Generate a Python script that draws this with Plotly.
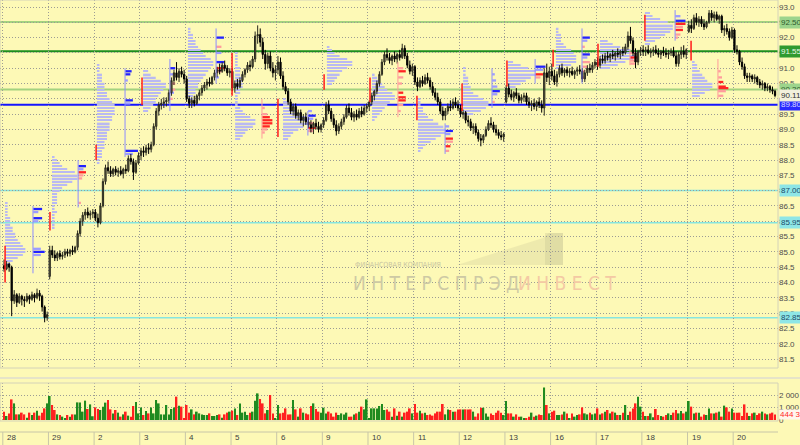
import plotly.graph_objects as go

# ---------------- data ----------------
day_labels = ["28", "29", "2", "3", "4", "5", "6", "9", "10", "11", "12", "13", "16", "17", "18", "19", "20"]
bars_per_day = 18

opens = [
    84.55,84.45,84.60,84.50,83.40,83.60,83.35,83.55,83.45,83.40,83.55,83.45,83.60,83.50,83.65,83.55,83.20,82.85,
    84.20,85.05,84.90,84.80,84.95,84.85,84.90,85.00,84.95,85.05,85.00,85.15,85.60,86.00,86.20,86.30,86.20,86.25,
    86.30,86.10,85.95,86.50,87.30,87.75,87.65,87.55,87.70,87.60,87.65,87.55,87.70,87.65,88.05,87.95,87.60,87.90,
    88.15,88.30,88.25,88.40,88.35,88.50,89.10,89.60,89.80,89.85,89.90,89.95,90.20,90.60,90.85,90.70,90.90,90.80,
    90.65,90.00,89.85,89.95,89.85,90.10,90.20,90.35,90.45,90.55,90.50,90.70,90.85,90.95,90.90,91.10,91.00,90.85,
    90.90,90.35,90.50,90.40,90.60,90.80,90.95,91.10,91.05,91.30,92.05,92.10,91.85,91.45,91.15,91.40,91.00,90.85,
    90.95,91.20,90.75,90.40,90.25,89.90,89.60,89.75,89.45,89.55,89.30,89.40,89.25,89.15,89.05,89.20,89.10,89.00,
    89.15,89.30,89.80,89.60,89.35,89.15,88.95,89.10,89.25,89.40,89.70,89.55,89.40,89.50,89.40,89.60,89.50,89.70,
    89.75,89.90,90.10,90.25,90.50,90.80,91.20,91.45,91.35,91.25,91.40,91.30,91.45,91.35,91.65,91.40,91.10,90.90,
    91.05,90.55,90.40,90.60,90.50,90.70,90.60,90.40,90.20,90.05,89.90,89.60,89.45,89.60,89.75,89.70,89.90,89.80,
    89.70,89.50,89.55,89.30,89.25,89.05,89.10,88.90,88.70,88.65,88.80,89.00,89.20,89.15,89.00,88.90,88.80,88.75,
    89.90,90.35,90.15,90.05,90.20,90.10,89.95,90.05,90.10,89.90,89.80,89.85,89.75,89.90,89.80,89.70,90.85,90.70,
    90.90,90.75,90.55,90.80,91.00,90.85,90.95,90.85,90.90,90.80,90.90,90.95,90.90,90.65,90.85,91.00,90.95,91.10,
    91.20,91.10,91.30,91.25,91.40,91.35,91.45,91.40,91.50,91.45,91.55,91.50,91.70,92.05,91.90,91.50,91.20,91.55,
    91.60,91.55,91.60,91.50,91.55,91.60,91.50,91.45,91.55,91.50,91.45,91.50,91.55,91.40,91.15,91.45,91.55,91.45,
    92.20,92.40,92.30,92.65,92.50,92.60,92.45,92.35,92.50,92.80,92.65,92.75,92.60,92.70,92.25,92.30,92.20,92.00,
    92.25,91.60,91.55,91.20,91.05,90.75,90.70,90.75,90.65,90.70,90.55,90.45,90.50,90.35,90.40,90.30,90.25,
]
highs = [
    84.75,84.70,84.65,84.55,83.75,83.65,83.65,83.60,83.55,83.65,83.60,83.70,83.65,83.80,83.75,83.60,83.25,83.05,
    85.20,85.20,85.05,85.00,85.05,85.00,85.10,85.10,85.10,85.20,85.20,85.70,86.10,86.30,86.40,86.45,86.35,86.40,
    86.40,86.25,86.60,87.40,87.85,87.95,87.80,87.75,87.80,87.75,87.80,87.75,87.85,88.15,88.20,88.05,88.00,88.25,
    88.40,88.45,88.50,88.55,88.60,89.20,89.70,89.90,90.00,90.05,90.05,90.30,90.70,90.95,91.20,91.00,91.05,90.95,
    90.75,90.10,90.05,90.10,90.15,90.30,90.45,90.55,90.65,90.70,90.75,90.95,91.05,91.15,91.20,91.25,91.10,91.00,
    91.00,90.60,90.65,90.70,90.90,91.00,91.20,91.25,91.40,92.20,92.40,92.30,92.00,91.60,91.50,91.55,91.20,91.10,
    91.40,91.35,90.90,90.55,90.35,90.00,89.85,89.85,89.65,89.65,89.50,89.55,89.40,89.30,89.25,89.35,89.25,89.20,
    89.40,89.90,89.95,89.70,89.50,89.30,89.20,89.35,89.50,89.80,89.85,89.70,89.60,89.65,89.70,89.75,89.80,89.85,
    89.95,90.20,90.30,90.60,90.90,91.30,91.55,91.65,91.50,91.45,91.55,91.50,91.60,91.80,91.75,91.50,91.25,91.15,
    91.10,90.70,90.70,90.75,90.80,90.85,90.70,90.55,90.35,90.20,90.00,89.75,89.70,89.85,89.95,90.00,90.05,89.95,
    89.80,89.65,89.60,89.45,89.35,89.20,89.20,89.00,88.85,88.85,89.10,89.30,89.40,89.25,89.15,89.00,88.95,88.90,
    90.45,90.50,90.30,90.25,90.35,90.20,90.15,90.20,90.20,90.05,89.95,90.00,89.95,90.05,89.95,91.00,91.15,91.05,
    91.15,90.95,90.90,91.10,91.15,91.00,91.05,91.00,91.05,90.95,91.05,91.10,91.00,90.95,91.10,91.15,91.20,91.30,
    91.35,91.40,91.45,91.50,91.55,91.50,91.60,91.55,91.65,91.60,91.70,91.80,92.20,92.35,92.00,91.65,91.60,91.70,
    91.75,91.70,91.75,91.65,91.70,91.75,91.65,91.60,91.70,91.65,91.60,91.65,91.70,91.55,91.55,91.70,91.75,91.65,
    92.55,92.60,92.75,92.80,92.70,92.70,92.60,92.55,92.90,92.90,92.85,92.85,92.75,92.75,92.40,92.45,92.30,92.35,
    92.30,91.75,91.60,91.35,91.15,90.85,90.85,90.80,90.80,90.75,90.65,90.60,90.55,90.50,90.45,90.40,90.30,
]
lows = [
    84.35,84.40,84.35,82.90,83.30,83.20,83.30,83.25,83.20,83.35,83.30,83.40,83.35,83.45,83.40,83.05,82.70,82.75,
    84.10,84.80,84.70,84.70,84.75,84.75,84.80,84.85,84.85,84.90,84.95,85.05,85.50,85.85,86.05,86.10,86.05,86.10,
    86.00,85.80,85.90,86.45,87.20,87.55,87.45,87.45,87.50,87.45,87.50,87.40,87.55,87.60,87.85,87.35,87.55,87.85,
    88.00,88.10,88.15,88.20,88.25,88.45,89.00,89.45,89.65,89.70,89.75,89.85,90.10,90.45,90.60,90.55,90.70,90.50,
    89.90,89.70,89.70,89.75,89.80,89.95,90.10,90.25,90.30,90.40,90.45,90.60,90.70,90.80,90.85,90.90,90.75,90.70,
    90.25,90.20,90.30,90.35,90.55,90.70,90.85,90.90,91.00,91.20,91.80,91.70,91.30,90.95,91.00,90.90,90.70,90.60,
    90.80,90.65,90.30,90.15,89.80,89.50,89.45,89.35,89.30,89.20,89.10,89.15,89.05,88.90,88.85,89.00,88.90,88.90,
    89.05,89.25,89.50,89.25,89.05,88.80,88.85,89.00,89.15,89.35,89.45,89.30,89.25,89.30,89.35,89.40,89.45,89.55,
    89.60,89.80,89.95,90.15,90.40,90.75,91.10,91.25,91.15,91.10,91.20,91.15,91.25,91.30,91.30,91.00,90.80,90.75,
    90.45,90.25,90.35,90.40,90.45,90.50,90.30,90.10,89.95,89.80,89.50,89.30,89.30,89.50,89.60,89.65,89.70,89.60,
    89.40,89.35,89.20,89.10,88.95,88.85,88.80,88.60,88.45,88.55,88.75,88.95,89.05,88.90,88.80,88.70,88.65,88.60,
    89.85,90.05,89.95,89.90,90.00,89.85,89.85,89.90,89.80,89.70,89.60,89.65,89.60,89.70,89.55,89.45,90.55,90.45,
    90.60,90.45,90.40,90.70,90.75,90.70,90.75,90.70,90.75,90.65,90.75,90.80,90.55,90.55,90.75,90.85,90.85,91.00,
    90.95,91.00,91.15,91.15,91.25,91.20,91.30,91.25,91.35,91.30,91.40,91.45,91.60,91.80,91.40,91.00,91.10,91.40,
    91.40,91.40,91.45,91.35,91.40,91.45,91.35,91.30,91.40,91.35,91.30,91.40,91.35,91.05,91.05,91.30,91.35,91.30,
    92.15,92.15,92.25,92.40,92.35,92.35,92.25,92.30,92.45,92.55,92.50,92.55,92.45,92.15,92.05,92.10,91.90,91.95,
    91.50,91.45,91.10,90.95,90.65,90.55,90.55,90.55,90.50,90.45,90.35,90.30,90.25,90.25,90.20,90.15,90.05,
]
closes = [
    84.45,84.60,84.50,83.40,83.60,83.35,83.55,83.45,83.40,83.55,83.45,83.60,83.50,83.65,83.55,83.20,82.85,82.95,
    85.05,84.90,84.80,84.95,84.85,84.90,85.00,84.95,85.05,85.00,85.15,85.60,86.00,86.20,86.30,86.20,86.25,86.30,
    86.10,85.95,86.50,87.30,87.75,87.65,87.55,87.70,87.60,87.65,87.55,87.70,87.65,88.05,87.95,87.60,87.90,88.15,
    88.30,88.25,88.40,88.35,88.50,89.10,89.60,89.80,89.85,89.90,89.95,90.20,90.60,90.85,90.70,90.90,90.80,90.65,
    90.00,89.85,89.95,89.85,90.10,90.20,90.35,90.45,90.55,90.50,90.70,90.85,90.95,90.90,91.10,91.00,90.85,90.90,
    90.35,90.50,90.40,90.60,90.80,90.95,91.10,91.05,91.30,92.05,92.10,91.85,91.45,91.15,91.40,91.00,90.85,90.95,
    91.20,90.75,90.40,90.25,89.90,89.60,89.75,89.45,89.55,89.30,89.40,89.25,89.15,89.05,89.20,89.10,89.00,89.15,
    89.30,89.80,89.60,89.35,89.15,88.95,89.10,89.25,89.40,89.70,89.55,89.40,89.50,89.40,89.60,89.50,89.70,89.75,
    89.90,90.10,90.25,90.50,90.80,91.20,91.45,91.35,91.25,91.40,91.30,91.45,91.35,91.65,91.40,91.10,90.90,91.05,
    90.55,90.40,90.60,90.50,90.70,90.60,90.40,90.20,90.05,89.90,89.60,89.45,89.60,89.75,89.70,89.90,89.80,89.70,
    89.50,89.55,89.30,89.25,89.05,89.10,88.90,88.70,88.65,88.80,89.00,89.20,89.15,89.00,88.90,88.80,88.75,88.85,
    90.35,90.15,90.05,90.20,90.10,89.95,90.05,90.10,89.90,89.80,89.85,89.75,89.90,89.80,89.70,90.85,90.70,90.90,
    90.75,90.55,90.80,91.00,90.85,90.95,90.85,90.90,90.80,90.90,90.95,90.90,90.65,90.85,91.00,90.95,91.10,91.20,
    91.10,91.30,91.25,91.40,91.35,91.45,91.40,91.50,91.45,91.55,91.50,91.70,92.05,91.90,91.50,91.20,91.55,91.60,
    91.55,91.60,91.50,91.55,91.60,91.50,91.45,91.55,91.50,91.45,91.50,91.55,91.40,91.15,91.45,91.55,91.45,91.60,
    92.40,92.30,92.65,92.50,92.60,92.45,92.35,92.50,92.80,92.65,92.75,92.60,92.70,92.25,92.30,92.20,92.00,92.25,
    91.60,91.55,91.20,91.05,90.75,90.70,90.75,90.65,90.70,90.55,90.45,90.50,90.35,90.40,90.30,90.25,90.11,
]
# volume, thousands
volumes = [
    670,320,530,1650,1330,450,450,590,450,190,590,400,590,750,350,590,930,1330,
    1920,1200,800,450,400,270,130,400,270,450,450,1410,1410,670,1550,880,1250,300,
    1010,880,800,1070,1390,1600,850,530,800,590,270,450,670,350,270,1120,1440,530,
    1010,400,720,530,1010,530,1600,1330,450,450,1200,450,880,1010,1870,1150,1070,130,
    1200,590,850,450,670,530,450,400,400,530,320,320,400,450,190,450,590,670,
    750,930,400,1330,590,670,400,590,670,1550,2130,1680,1330,530,800,2000,530,130,
    1200,530,590,930,450,450,1600,850,270,930,590,530,450,1120,1330,880,670,590,
    980,530,670,530,270,590,400,530,450,590,270,270,450,530,670,1070,850,1650,
    130,930,930,930,1120,1280,800,850,670,270,930,350,670,270,590,670,930,530,
    1280,590,750,530,590,400,450,350,530,670,670,1280,450,850,800,670,670,850,
    850,850,850,850,850,670,270,530,980,980,530,270,530,400,590,750,590,400,
    1520,530,530,270,450,270,270,130,130,270,590,270,350,450,400,2600,1200,530,
    670,750,400,400,450,670,530,130,530,270,400,450,1010,530,450,590,450,530,
    930,450,530,670,800,530,670,590,400,400,590,1200,400,670,930,1330,1870,1070,
    670,320,320,530,220,880,400,320,270,400,530,400,590,800,530,720,530,670,
    1520,1070,530,590,590,270,450,400,930,530,530,590,670,270,1150,1010,670,930,
    590,590,590,320,1250,590,320,530,590,400,530,670,530,450,530,590,444,
]
last_volume_text = "444 340"

# horizontal levels
level_values = [92.507, 91.555, 90.305, 89.803, 87.006, 85.953, 82.850]
level_kinds = ["lg", "dg", "lg", "bl", "cy", "cy", "cy"]

# volume profiles (lavender), start in bar units, low price, widths per 0.1 step
prof_start = [0.4, 18.9, 36.6, 54.8, 72.5, 91.1, 110.0, 127.3, 145.1, 163.2, 181.0, 198.7, 217.6, 235.0, 252.7, 271.3]
prof_low = [84.6, 85.8, 87.9, 89.6, 89.9, 88.7, 88.7, 90.5, 89.3, 88.3, 89.5, 90.4, 91.0, 91.0, 91.8, 90.1]
prof_widths = [
    [2,3,5,7,8,8,7,6,5,4,4,3,3,2,2,2,1,1,1,1,1],
    [1,1,1,1,1,2,1,1,2,2,2,2,3,4,6,8,10,10,9,6,4,3,2,1],
    [1,1,2,2,2,3,3,3,4,4,4,5,5,5,6,6,7,7,7,7,6,5,4,4,3,3,3,2,2,2,1,1,1],
    [2,3,4,5,5,6,7,8,9,9,7,5,3,2],
    [1,2,2,3,3,4,4,5,6,7,8,9,10,10,9,7,6,5,4,3,3,2,2,1,1],
    [2,3,4,5,7,8,8,6,4,3,2,1,1,1,1,2,2,3,3,3,3,2,2,2,1,1,1,1,1],
    [2,3,4,6,8,10,10,9,7,5,4,3,2,1],
    [2,3,4,5,6,8,10,10,8,5,3,2,1],
    [1,2,3,4,5,6,7,9,9,8,6,5,4,3,2,1],
    [1,2,3,5,7,9,11,11,10,8,6,4,3,2,2,1,1,1],
    [4,7,9,10,10,8,6,4,3,3,2,2,2,1,1,1],
    [3,5,7,9,11,11,8,5,2],
    [3,6,8,8,8,7,6,4,3,2,2,2,1,1],
    [4,7,10,13,14,14,12,8,5,3],
    [2,4,6,8,10,11,11,9,6,3,2],
    [3,5,7,8,8,6,5,4,3,2,2,1],
]

# buy/sell highlight blocks: B dark blue, b light blue, S red, s pink
blk_start = [11.5, 29.3, 47.8, 65.5, 83.7, 101.8, 119.9, 155.4, 174.0, 192.5, 209.5, 228.0, 246.9, 264.7, 281.6]
blk_prices = [
    [86.4, 86.3, 86.1, 86.0, 85.1, 85.0, 84.9],
    [87.8, 87.7, 87.6, 87.5, 87.4, 86.6, 86.5],
    [90.9, 90.8, 90.6, 89.95, 89.85, 88.3, 88.2],
    [91.0, 90.8, 90.5, 90.3, 90.2, 90.0],
    [92.0, 91.7, 91.5, 91.2, 91.0, 90.9, 90.7],
    [89.7, 89.5, 89.4, 89.3, 89.2, 89.1, 89.0, 88.9],
    [89.6, 89.45, 89.35, 89.2, 89.05, 88.95],
    [91.0, 90.9, 90.7, 90.5, 90.2, 90.05, 89.95, 89.8, 89.6],
    [89.1, 88.95, 88.85, 88.7, 88.6, 88.45, 88.3],
    [90.8, 90.6, 90.4, 90.25, 90.15, 89.9],
    [91.05, 90.95, 90.8, 90.7],
    [92.0, 91.9, 91.7, 91.45, 91.35, 91.2, 91.05, 90.9, 90.7],
    [91.5, 91.35, 91.25, 91.15],
    [92.7, 92.55, 92.45, 92.35, 92.25, 92.1, 92.0],
    [90.9, 90.7, 90.55, 90.4, 90.35, 90.25, 90.1],
]
blk_widths = [
    [3.5, 2, 3.5, 2, 3, 4.5, 3],
    [3, 2, 3, 2, 1.5, 1, 1.5],
    [2.5, 2, 1, 3, 2, 5, 3],
    [2, 1.5, 2, 2, 1.5, 1],
    [3, 2, 2, 3, 3, 2, 1],
    [1, 2, 3, 4, 4, 3, 2, 1],
    [1.5, 3, 2, 2, 3, 2],
    [2, 3, 2, 1.5, 2, 3, 3, 2, 1],
    [1.5, 3, 2, 3, 3, 2, 1.5],
    [1, 1.5, 2, 3, 2, 1],
    [4, 3, 3, 2],
    [3, 2, 1, 3, 2, 3, 2, 1, 1],
    [2, 3, 3, 2],
    [2, 4, 4, 3, 3, 2, 1],
    [1, 1.5, 2, 3, 4, 3, 2],
]
blk_kinds = ["BbBbbBb", "BbSsss", "BBbBbBb", "Bbssbs", "BsbBSsb", "ssSSSSss",
             "bBbsSs", "sSssSSSss", "bBbSsSs", "bbbBbs", "BbSs", "BbsBbssss",
             "sSss", "bBSsSss", "ssSSSss"]

# thin vertical marks at the left of profiles
red_mark_x = [0.4, 18.1, 36.3, 54.4, 89.9, 108.0, 126.2, 144.3, 162.8, 180.6, 198.3, 216.5, 234.2, 252.7, 270.9]
red_mark_lo = [84.0, 85.7, 88.0, 89.8, 90.1, 88.75, 90.3, 89.9, 89.3, 89.6, 90.4, 91.05, 91.05, 91.9, 91.25]
red_mark_hi = [85.2, 86.3, 88.5, 90.7, 91.5, 90.0, 90.8, 90.7, 90.1, 90.5, 91.25, 91.6, 91.8, 92.75, 91.9]
blue_mark_x = [11.4, 29.2, 47.7, 65.4, 83.6, 119.8, 173.9, 192.4, 209.4, 227.9, 264.6]
blue_mark_lo = [84.3, 86.45, 88.1, 89.6, 90.5, 88.8, 88.2, 89.7, 90.5, 90.5, 91.9]
blue_mark_hi = [86.5, 88.0, 91.0, 91.3, 92.3, 89.6, 89.2, 91.0, 91.3, 92.3, 92.9]
pink_mark_x = [101.7, 155.3, 246.8, 281.5]
pink_mark_lo = [88.7, 89.4, 91.1, 90.0]
pink_mark_hi = [90.0, 91.2, 91.6, 91.3]

# ---------------- styling ----------------
BG = "#fdf9b6"
GRID = "#9c9c94"
GRID_DASH = "1px,2px"
FONT = "Liberation Sans, Arial, sans-serif"
LEVEL_LINE = {"lg": "#a3d27f", "dg": "#1d8e1d", "bl": "#1414ff", "cy": "#86e6e0"}
LEVEL_LW = {"lg": 2, "dg": 2, "bl": 2, "cy": 1.5}
LEVEL_BG = {"lg": "#9cd48c", "dg": "#2f9a2f", "bl": "#2a2aff", "cy": "#8ee6e6"}
LEVEL_FG = {"lg": "#2d5a2d", "dg": "#e8f8e8", "bl": "#d8d8ff", "cy": "#1a4a6a"}
KIND_COLOR = {"B": "#2222ff", "b": "#9c9cff", "S": "#ff2424", "s": "#ff9c9c"}

n = len(closes)
xs = list(range(n))
day_starts = [k * bars_per_day - 0.5 for k in range(len(day_labels))]

W, H = 800, 445
ML, MR, MT, MB = 0, 22, 0, 24
PW, PH = W - ML - MR, H - MT - MB
main_top_px, main_bot_px = 0, 368
vol_top_px, vol_bot_px = 383, 421


def py(px):  # pixel y -> paper y
    return (PH - (px - MT)) / PH


def pxx(px):  # pixel x -> paper x
    return (px - ML) / PW


fig = go.Figure()

# lavender profiles
pb_x, pb_y, pb_base = [], [], []
for s, lo, ws in zip(prof_start, prof_low, prof_widths):
    for j, w in enumerate(ws):
        pb_x.append(w)
        pb_y.append(round(lo + 0.1 * j, 2))
        pb_base.append(s)
fig.add_trace(go.Bar(x=pb_x, y=pb_y, base=pb_base, orientation="h", width=0.045,
                     marker=dict(color="#b9b9f2", line_width=0),
                     xaxis="x", yaxis="y", hoverinfo="skip"))

# highlight blocks
hb_x, hb_y, hb_base, hb_c = [], [], [], []
for s, ps, ws, ks in zip(blk_start, blk_prices, blk_widths, blk_kinds):
    for p, w, k in zip(ps, ws, ks):
        hb_x.append(w)
        hb_y.append(p)
        hb_base.append(s)
        hb_c.append(KIND_COLOR[k])
fig.add_trace(go.Bar(x=hb_x, y=hb_y, base=hb_base, orientation="h", width=0.075,
                     marker=dict(color=hb_c, line_width=0), xaxis="x", yaxis="y", hoverinfo="skip"))


def seg_trace(xl, lol, hil, color, width):
    sx, sy = [], []
    for x, lo, hi in zip(xl, lol, hil):
        sx += [x, x, None]
        sy += [lo, hi, None]
    return go.Scatter(x=sx, y=sy, mode="lines", line=dict(color=color, width=width),
                      xaxis="x", yaxis="y", hoverinfo="skip")


fig.add_trace(seg_trace(blue_mark_x, blue_mark_lo, blue_mark_hi, "#8c8cff", 1))
fig.add_trace(seg_trace(pink_mark_x, pink_mark_lo, pink_mark_hi, "#ff9c9c", 1))
fig.add_trace(seg_trace(red_mark_x, red_mark_lo, red_mark_hi, "#ff1a1a", 1.5))

# candles
fig.add_trace(go.Candlestick(
    x=xs, open=opens, high=highs, low=lows, close=closes,
    increasing=dict(line=dict(color="#2a2a1e", width=1), fillcolor="#66664e"),
    decreasing=dict(line=dict(color="#000000", width=1), fillcolor="#000000"),
    whiskerwidth=0, xaxis="x", yaxis="y", hoverinfo="skip"))

# volume
vcol = ["#1f8a1f" if c >= o else "#ff2020" for o, c in zip(opens, closes)]
fig.add_trace(go.Bar(x=xs, y=volumes, width=0.66, marker=dict(color=vcol, line_width=0),
                     xaxis="x", yaxis="y2", hoverinfo="skip"))

shapes = []
annotations = []

# level lines + labels
for v, k in zip(level_values, level_kinds):
    shapes.append(dict(type="line", xref="paper", x0=0, x1=1, yref="y", y0=v, y1=v,
                       line=dict(color=LEVEL_LINE[k], width=LEVEL_LW[k]), layer="below"))
    annotations.append(dict(xref="paper", x=1, xanchor="left", xshift=1, yref="y", y=v,
                            yanchor="middle", text=f"{v:.3f}", showarrow=False,
                            font=dict(family=FONT, size=8, color=LEVEL_FG[k]),
                            bgcolor=LEVEL_BG[k], borderpad=1))
# last price label
annotations.append(dict(xref="paper", x=1, xanchor="left", xshift=1, yref="y", y=closes[-1],
                        yanchor="middle", text=f"{closes[-1]:.2f}", showarrow=False,
                        font=dict(family=FONT, size=8, color="#303030"), bgcolor="#f2f0dc", borderpad=1))
# last volume label
annotations.append(dict(xref="paper", x=1, xanchor="left", xshift=1, yref="y2", y=volumes[-1],
                        yanchor="middle", text=last_volume_text, showarrow=False,
                        font=dict(family=FONT, size=8, color="#ff2a2a"), bgcolor="#fff6ee", borderpad=0))

# date labels
for lab, ds in zip(day_labels, day_starts):
    annotations.append(dict(xref="x", x=ds, xanchor="left", xshift=2, yref="paper", y=py(438),
                            yanchor="middle", text=lab, showarrow=False,
                            font=dict(family=FONT, size=8, color="#404040")))
    shapes.append(dict(type="line", xref="x", x0=ds, x1=ds, yref="paper", y0=py(432), y1=py(445),
                       line=dict(color="#c8c6a8", width=1)))
shapes.append(dict(type="line", xref="paper", x0=0, x1=1, yref="paper", y0=py(432), y1=py(432),
                   line=dict(color="#c8c6a8", width=1)))
# panel borders / separator
shapes.append(dict(type="rect", xref="paper", x0=0, x1=1, yref="y domain", y0=0, y1=1,
                   line=dict(color="#d4d2b8", width=1)))
shapes.append(dict(type="rect", xref="paper", x0=0, x1=1, yref="y2 domain", y0=0, y1=1,
                   line=dict(color="#d4d2b8", width=1)))
shapes.append(dict(type="line", xref="paper", x0=0, x1=1.03, yref="paper", y0=py(378), y1=py(378),
                   line=dict(color="#e6e4c8", width=2)))

# watermark logo
logo = (f"M {pxx(457)},{py(265)} L {pxx(543)},{py(238)} L {pxx(549)},{py(233)} "
        f"L {pxx(563)},{py(233)} L {pxx(563)},{py(265)} Z")
shapes.append(dict(type="path", xref="paper", yref="paper", path=logo,
                   fillcolor="rgba(200,196,150,0.28)", line=dict(width=0), layer="below"))
shapes.append(dict(type="rect", xref="paper", yref="paper", x0=pxx(545), x1=pxx(563), y0=py(265), y1=py(233),
                   fillcolor="rgba(190,186,140,0.28)", line=dict(width=0), layer="below"))
annotations.append(dict(xref="paper", yref="paper", x=pxx(353), y=py(265), xanchor="left", yanchor="middle",
                        text="ФИНАНСОВАЯ КОМПАНИЯ", showarrow=False,
                        font=dict(family="DejaVu Sans Condensed, DejaVu Sans", size=7, color="#c9c5a2")))
annotations.append(dict(xref="paper", yref="paper", x=pxx(351), y=py(283), xanchor="left", yanchor="middle",
                        text="И Н Т Е Р С П Р Э Д -", showarrow=False,
                        font=dict(family="DejaVu Sans Condensed, DejaVu Sans", size=19, color="#cdc9a4")))
annotations.append(dict(xref="paper", yref="paper", x=pxx(516), y=py(283), xanchor="left", yanchor="middle",
                        text="И Н В Е С Т", showarrow=False,
                        font=dict(family="DejaVu Sans Condensed, DejaVu Sans", size=19, color="#f4c9a4")))

axis_common = dict(showgrid=True, gridcolor=GRID, griddash=GRID_DASH, gridwidth=1, zeroline=False,
                   ticks="", automargin=False, showline=False)

fig.update_layout(
    template="none",
    width=W, height=H,
    margin=dict(l=ML, r=MR, t=MT, b=MB),
    paper_bgcolor=BG, plot_bgcolor=BG,
    showlegend=False,
    barmode="overlay",
    xaxis=dict(axis_common, domain=[0, 1], range=[(0 - 4.07) / 2.536, (PW - 4.07) / 2.536],
               anchor="y2", tickvals=day_starts, showticklabels=False,
               rangeslider=dict(visible=False)),
    yaxis=dict(axis_common, domain=[py(main_bot_px), py(main_top_px)],
               range=[81.206, 93.229], side="right", anchor="x",
               tick0=81.5, dtick=0.5, tickformat=".1f",
               tickfont=dict(family=FONT, size=8, color="#4c4c4c")),
    yaxis2=dict(axis_common, domain=[py(vol_bot_px), py(vol_top_px)],
                range=[-80, 2960], side="right", anchor="x",
                tickvals=[0, 1000, 2000], ticktext=["0", "1 000 000", "2 000 000"],
                tickfont=dict(family=FONT, size=8, color="#4c4c4c")),
    shapes=shapes,
    annotations=annotations,
)

fig.write_html("out.html", config={"displayModeBar": False},
               post_script="document.body.style.margin='0';document.body.style.overflow='hidden';")
